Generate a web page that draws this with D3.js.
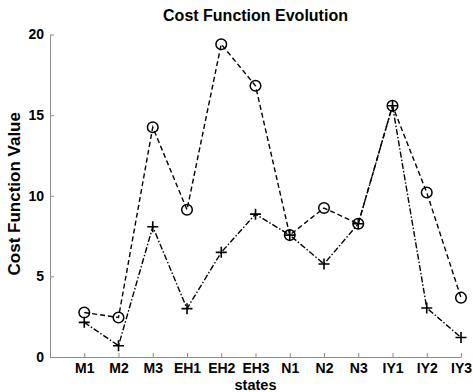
<!DOCTYPE html>
<html>
<head>
<meta charset="utf-8">
<script src="https://cdn.jsdelivr.net/npm/d3@7"></script>
<style>
  html, body { margin: 0; padding: 0; background: #fff; }
  svg { display: block; font-family: "Liberation Sans", Arial, sans-serif; }
</style>
</head>
<body>
<svg id="chart" width="473" height="392"></svg>
<script>
// Categories along the x axis
const states = ["M1", "M2", "M3", "EH1", "EH2", "EH3", "N1", "N2", "N3", "IY1", "IY2", "IY3"];
// Cost per state, circle-marker series (dashed)
const costCircle = [2.76, 2.45, 14.25, 9.13, 19.4, 16.82, 7.56, 9.24, 8.26, 15.58, 10.2, 3.68];
// Cost per state, plus-marker series (dash-dot)
const costPlus = [2.15, 0.7, 8.08, 3.0, 6.49, 8.86, 7.56, 5.77, 8.26, 15.58, 3.04, 1.21];
// Y axis ticks
const yTicks = [0, 5, 10, 15, 20];

const svg = d3.select("#chart");
const plotLeft = 50, plotRight = 461, plotTop = 34.5, plotBottom = 357;

const x = d3.scaleLinear().domain([0, states.length]).range([plotLeft, plotRight]);
const y = d3.scaleLinear().domain([0, 20]).range([plotBottom, plotTop]);
const xPos = i => x(i + 1);

// Axes (left and bottom only, ticks pointing inward)
const axisColor = "#8c8c8c";
const fontFamily = "'Liberation Sans', Arial, sans-serif";
const gx = svg.append("g").attr("transform", `translate(0,${plotBottom})`)
  .call(d3.axisBottom(x).tickValues(d3.range(1, states.length + 1))
    .tickFormat(d => states[d - 1]).tickSizeInner(-4).tickSizeOuter(0).tickPadding(6));
gx.select(".domain").attr("stroke", axisColor);
gx.selectAll(".tick line").attr("stroke", axisColor);
gx.selectAll(".tick text").attr("fill", "#000").attr("font-size", 14).attr("font-weight", "bold")
  .attr("font-family", fontFamily);

const gy = svg.append("g").attr("transform", `translate(${plotLeft},0)`)
  .call(d3.axisLeft(y).tickValues(yTicks).tickSizeInner(-4).tickSizeOuter(0).tickPadding(6));
gy.select(".domain").attr("stroke", axisColor);
gy.selectAll(".tick line").attr("stroke", axisColor);
gy.selectAll(".tick text").attr("fill", "#000").attr("font-size", 14).attr("font-weight", "bold")
  .attr("font-family", fontFamily);

// Series lines
const line = d3.line().x((d, i) => xPos(i)).y(d => y(d));
svg.append("path").datum(costCircle).attr("d", line)
  .attr("fill", "none").attr("stroke", "#000").attr("stroke-width", 1.4)
  .attr("stroke-dasharray", "5,3");
svg.append("path").datum(costPlus).attr("d", line)
  .attr("fill", "none").attr("stroke", "#000").attr("stroke-width", 1.4)
  .attr("stroke-dasharray", "6,2,1.5,2");

// Circle markers
svg.append("g").selectAll("circle").data(costCircle).join("circle")
  .attr("cx", (d, i) => xPos(i)).attr("cy", d => y(d)).attr("r", 5.3)
  .attr("fill", "none").attr("stroke", "#000").attr("stroke-width", 1.5);

// Plus markers
svg.append("g").selectAll("path").data(costPlus).join("path")
  .attr("d", (d, i) => {
    const cx = xPos(i), cy = y(d), s = 5.5;
    return `M${cx - s},${cy}H${cx + s}M${cx},${cy - s}V${cy + s}`;
  })
  .attr("fill", "none").attr("stroke", "#000").attr("stroke-width", 1.6);

// Title and axis labels
svg.append("text").attr("x", (plotLeft + plotRight) / 2).attr("y", 21)
  .attr("text-anchor", "middle").attr("font-size", 16).attr("font-weight", "bold")
  .text("Cost Function Evolution");
svg.append("text").attr("x", (plotLeft + plotRight) / 2).attr("y", 390)
  .attr("text-anchor", "middle").attr("font-size", 14.5).attr("font-weight", "bold")
  .text("states");
svg.append("text").attr("transform", `translate(20,${(plotTop + plotBottom) / 2 - 2}) rotate(-90)`)
  .attr("text-anchor", "middle").attr("font-size", 17).attr("font-weight", "bold")
  .text("Cost Function Value");
</script>
</body>
</html>
